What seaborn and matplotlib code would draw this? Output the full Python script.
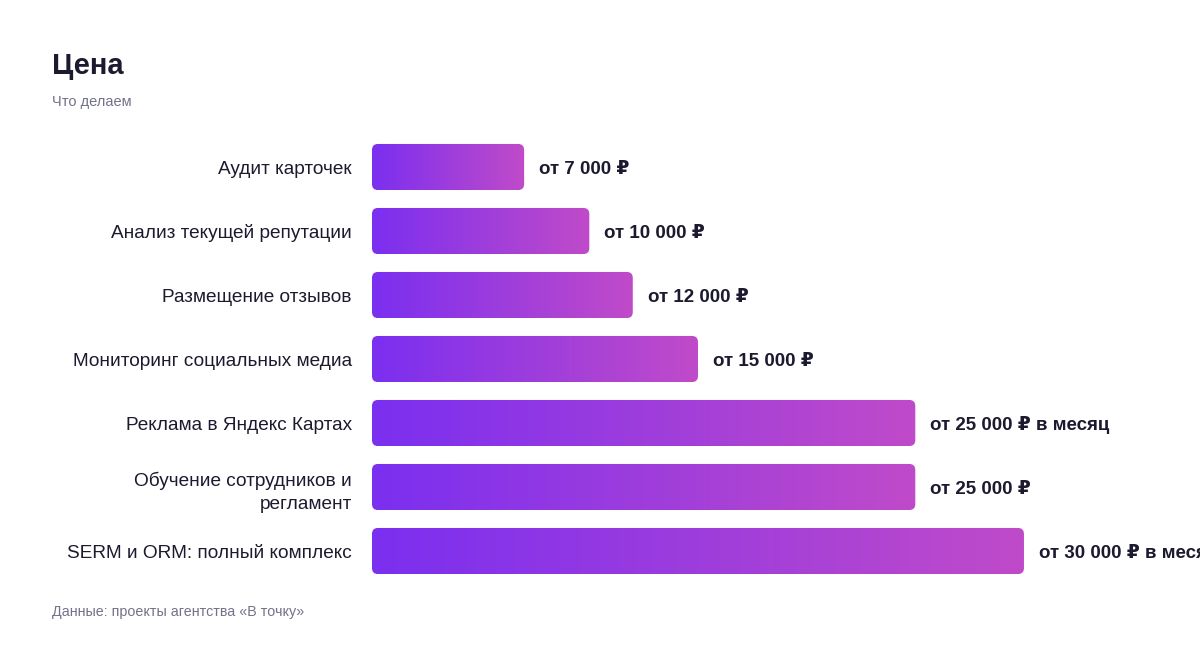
import numpy as np
import pandas as pd
import seaborn as sns
import matplotlib.pyplot as plt
from matplotlib.patches import FancyBboxPatch
from matplotlib.colors import LinearSegmentedColormap

# data
services = [
    "Аудит карточек",
    "Анализ текущей репутации",
    "Размещение отзывов",
    "Мониторинг социальных медиа",
    "Реклама в Яндекс Картах",
    "Обучение сотрудников и\nрегламент",
    "SERM и ORM: полный комплекс",
]
prices = [7000, 10000, 12000, 15000, 25000, 25000, 30000]
price_labels = [
    "от 7 000 ₽",
    "от 10 000 ₽",
    "от 12 000 ₽",
    "от 15 000 ₽",
    "от 25 000 ₽ в месяц",
    "от 25 000 ₽",
    "от 30 000 ₽ в месяц",
]

df = pd.DataFrame({"service": services, "price": prices})

sns.set_theme(style="white")
plt.rcParams["font.family"] = ["Liberation Sans", "DejaVu Sans"]

dark = "#1b1a2e"
grey = "#72728a"

fig = plt.figure(figsize=(12, 6.48), dpi=100)
ax = fig.add_axes([372 / 1200, 1 - 583 / 648, 1 - 372 / 1200, 448 / 648])

sns.barplot(data=df, x="price", y="service", orient="h", width=0.72,
            color="#7b30ee", ax=ax)

xmax = 38100
ax.set_xlim(0, xmax)
ax.set_ylim(6.5, -0.5)

# gradient fill with rounded corners
cmap = LinearSegmentedColormap.from_list("grad", ["#7b2ff0", "#c04bc9"])
grad = np.linspace(0, 1, 256).reshape(1, -1)
px_x = xmax / 828  # data units per pixel in x
px_y = 7 / 448
r_px = 6
for p in list(ax.patches):
    x0, y0 = p.get_x(), p.get_y()
    w, h = p.get_width(), p.get_height()
    p.set_visible(False)
    box = FancyBboxPatch((x0, y0), w, h,
                         boxstyle=f"round,pad=0,rounding_size={r_px * px_x}",
                         mutation_aspect=px_y / px_x,
                         facecolor="none", edgecolor="none")
    ax.add_patch(box)
    im = ax.imshow(grad, cmap=cmap, aspect="auto",
                   extent=(x0, x0 + w, y0 + h, y0), zorder=2)
    im.set_clip_path(box)

# value labels
for i, (v, lab) in enumerate(zip(prices, price_labels)):
    ax.text(v + 15 * px_x, i + 2 * px_y, lab, va="center", ha="left",
            fontsize=13.5, fontweight="bold", color=dark)

ax.set_xlim(0, xmax)
ax.set_ylim(6.5, -0.5)
ax.set_xlabel("")
ax.set_ylabel("")
ax.set_xticks([])
ax.tick_params(axis="y", length=0, pad=14.5, labelsize=13.7, labelcolor=dark)
for t in ax.get_yticklabels():
    t.set_ha("right")
    t.set_multialignment("right")
    t.set_linespacing(1.45)
sns.despine(ax=ax, left=True, bottom=True)

# titles and footer
fig.text(52 / 1200, 1 - 66 / 648, "Цена", fontsize=21, fontweight="bold",
         color=dark, va="center", ha="left")
fig.text(52 / 1200, 1 - 102 / 648, "Что делаем", fontsize=10.5,
         color=grey, va="center", ha="left")
fig.text(52 / 1200, 1 - 612 / 648, "Данные: проекты агентства «В точку»",
         fontsize=10.3, color=grey, va="center", ha="left")

plt.savefig("out.png", dpi=100)
